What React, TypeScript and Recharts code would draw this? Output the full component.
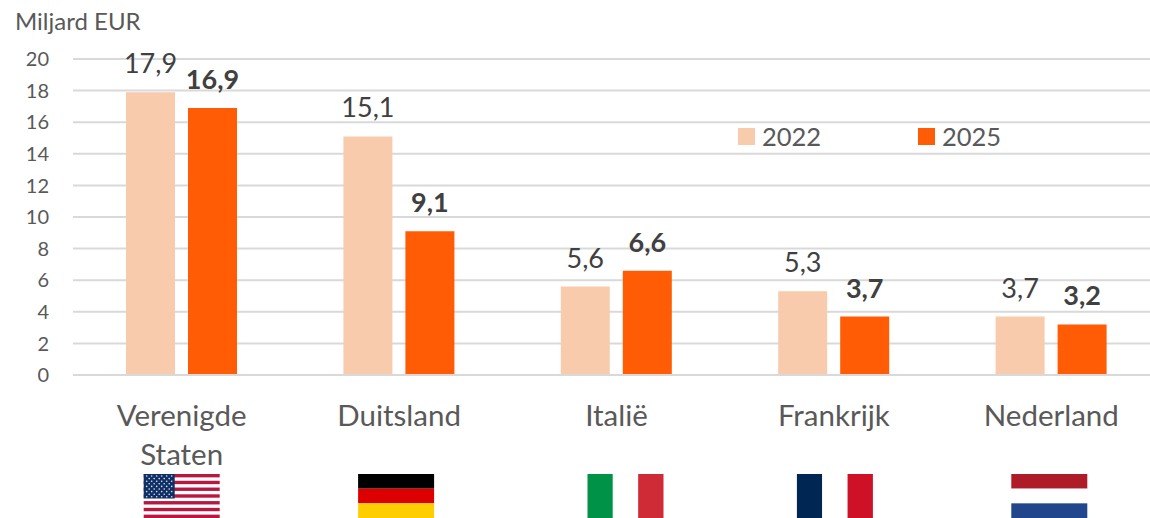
// App.tsx
import React from "react";
import { Bar, BarChart, CartesianGrid, LabelList, Legend, XAxis, YAxis } from "recharts";

const COUNTRIES = ["Verenigde Staten", "Duitsland", "Italië", "Frankrijk", "Nederland"];
const VALUES_2022 = [17.9, 15.1, 5.6, 5.3, 3.7];
const VALUES_2025 = [16.9, 9.1, 6.6, 3.7, 3.2];
const Y_TICKS = [0, 2, 4, 6, 8, 10, 12, 14, 16, 18, 20];

const data = COUNTRIES.map((name, i) => ({
  name,
  v2022: VALUES_2022[i],
  v2025: VALUES_2025[i],
}));

const FONT = "Lato, Carlito, sans-serif";
const TEXT = "#595959";
const LABEL = "#404040";
const LIGHT = "#F7CBAC";
const ORANGE = "#FF5C05";

const fmt = (v: any) => String(v).replace(".", ",");

function UsFlag() {
  const stripes = [0, 1, 2, 3, 4, 5, 6, 7, 8, 9, 10, 11, 12];
  const stars: React.ReactNode[] = [];
  for (let r = 0; r < 9; r++) {
    const n = r % 2 === 0 ? 6 : 5;
    for (let c = 0; c < n; c++) {
      stars.push(
        <circle
          key={r + "-" + c}
          cx={3 + c * 5 + (r % 2 === 0 ? 0 : 2.5)}
          cy={2 + r * 2.6}
          r={0.8}
          fill="#dfe5ef"
        />
      );
    }
  }
  return (
    <g>
      <rect x={-38} y={0} width={76} height={44} fill="#fff" />
      {stripes
        .filter((s) => s % 2 === 0)
        .map((s) => (
          <rect key={s} x={-38} y={(s * 44) / 13} width={76} height={44 / 13} fill="#B9173F" />
        ))}
      <rect x={-38} y={0} width={31} height={24.5} fill="#0F2F66" />
      <g transform="translate(-38,0)">{stars}</g>
    </g>
  );
}

function HBands({ colors }: { colors: string[] }) {
  const h = 44 / colors.length;
  return (
    <g>
      {colors.map((c, i) => (
        <rect key={i} x={-38} y={i * h} width={76} height={h} fill={c} />
      ))}
    </g>
  );
}

function VBands({ colors }: { colors: string[] }) {
  const w = 76 / colors.length;
  return (
    <g>
      {colors.map((c, i) => (
        <rect key={i} x={-38 + i * w} y={0} width={w} height={44} fill={c} />
      ))}
    </g>
  );
}

function Flag({ name }: { name: string }) {
  if (name === "Verenigde Staten") return <UsFlag />;
  if (name === "Duitsland") return <HBands colors={["#000000", "#DD0000", "#FFCE00"]} />;
  if (name === "Italië") return <VBands colors={["#009246", "#FFFFFF", "#CE2B37"]} />;
  if (name === "Frankrijk") return <VBands colors={["#002654", "#FFFFFF", "#CE1126"]} />;
  return <HBands colors={["#AE1C28", "#FFFFFF", "#21468B"]} />;
}

// flags sit a little off the band centre in the original
function flagShift(name: string) {
  if (name === "Duitsland") return -3;
  if (name === "Italië") return 9;
  if (name === "Frankrijk") return 1;
  if (name === "Nederland") return -2;
  return 0;
}

function CountryTick(props: any) {
  const { x, payload } = props;
  const name: string = payload.value;
  const lines = name === "Verenigde Staten" ? ["Verenigde", "Staten"] : [name];
  return (
    <g>
      <text x={x} y={426} textAnchor="middle" fontFamily={FONT} fontSize={29.5} fill={TEXT}>
        {lines.map((l, i) => (
          <tspan key={l} x={x} dy={i === 0 ? 0 : 39}>
            {l}
          </tspan>
        ))}
      </text>
      <g transform={`translate(${x + flagShift(name)},474)`}>
        <Flag name={name} />
      </g>
    </g>
  );
}

function LegendBox() {
  return (
    <div style={{ position: "relative", width: 300, height: 30, fontFamily: FONT, fontSize: 25.5, color: TEXT }}>
      <span style={{ position: "absolute", left: 0, top: 6, width: 17, height: 17, background: LIGHT }} />
      <span style={{ position: "absolute", left: 24, top: -1, lineHeight: "30px" }}>2022</span>
      <span style={{ position: "absolute", left: 180, top: 6, width: 17, height: 17, background: ORANGE }} />
      <span style={{ position: "absolute", left: 204, top: -1, lineHeight: "30px" }}>2025</span>
    </div>
  );
}

export default function App() {
  return (
    <div style={{ position: "absolute", left: 0, top: 0, width: 1150, height: 518, overflow: "hidden", background: "#fff" }}>
      <div style={{ position: "absolute", left: 15, top: 7, fontFamily: FONT, fontSize: 24, color: TEXT, lineHeight: "28px" }}>
        Miljard EUR
      </div>
      <BarChart
        width={1160}
        height={518}
        data={data}
        margin={{ top: 59, right: 0, bottom: 0, left: 0 }}
        barSize={49}
        barGap={13}
      >
        <CartesianGrid vertical={false} stroke="#D9D9D9" strokeWidth={2} />
        <XAxis
          dataKey="name"
          height={143}
          interval={0}
          tickLine={false}
          axisLine={{ stroke: "#D9D9D9", strokeWidth: 2 }}
          tick={<CountryTick />}
        />
        <YAxis
          width={73}
          domain={[0, 20]}
          ticks={Y_TICKS}
          interval={0}
          tickLine={false}
          axisLine={false}
          tickMargin={18}
          tick={{ fill: TEXT, fontSize: 20, fontFamily: FONT }}
        />
        <Legend
          verticalAlign="middle"
          layout="horizontal"
          align="center"
          wrapperStyle={{ position: "absolute", left: 738, top: 122, width: 300 }}
          content={<LegendBox />}
        />
        <Bar dataKey="v2022" fill={LIGHT} isAnimationActive={false}>
          <LabelList
            dataKey="v2022"
            position="top"
            offset={19}
            formatter={fmt}
            style={{ fill: LABEL, fontSize: 27, fontFamily: FONT }}
          />
        </Bar>
        <Bar dataKey="v2025" fill={ORANGE} isAnimationActive={false}>
          <LabelList
            dataKey="v2025"
            position="top"
            offset={19}
            formatter={fmt}
            style={{ fill: LABEL, fontSize: 27, fontFamily: FONT, fontWeight: 700 }}
          />
        </Bar>
      </BarChart>
    </div>
  );
}
